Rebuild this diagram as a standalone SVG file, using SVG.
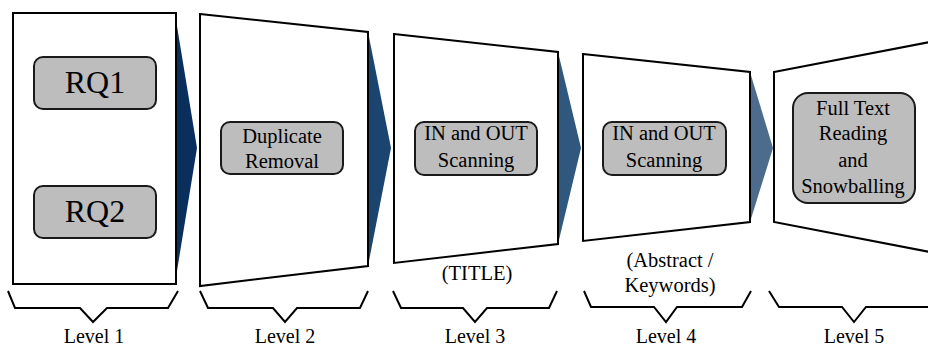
<svg xmlns="http://www.w3.org/2000/svg" width="928" height="347" viewBox="0 0 928 347">
  <style>
    .frame { fill: #ffffff; stroke: #000000; stroke-width: 2; stroke-linejoin: miter; }
    .box { fill: #bdbdbd; stroke: #1a1a1a; stroke-width: 2; }
    .brace { fill: none; stroke: #000000; stroke-width: 2; stroke-linejoin: miter; }
    .t { font-family: "Liberation Serif", "Times New Roman", serif; fill: #000000; text-anchor: middle; }
  </style>

  <!-- chevrons between stages -->
  <g id="connectors">
    <polygon points="176,20 197,148 176,277" fill="#0b2f5c"/>
    <polygon points="368,32 391,148 368,266" fill="#1b456f"/>
    <polygon points="558,52 581,148 558,244" fill="#30587f"/>
    <polygon points="750,72 773,148 750,222" fill="#4c6b8d"/>
  </g>

  <g id="level1">
    <rect class="frame" x="13" y="13" width="163" height="271"/>
    <g id="rq1">
      <rect class="box" x="34" y="57" width="122" height="52" rx="9"/>
      <text class="t" font-size="32" x="95" y="93">RQ1</text>
    </g>
    <g id="rq2">
      <rect class="box" x="34" y="186" width="122" height="52" rx="9"/>
      <text class="t" font-size="32" x="95" y="222">RQ2</text>
    </g>
    <path class="brace" d="M8,291 L15,308 L80,308 L93,322 L107,308 L168,308 L178,291"/>
    <text class="t" font-size="20" x="94" y="343">Level 1</text>
  </g>

  <g id="level2">
    <polygon class="frame" points="200,14 368,32 368,266 200,286"/>
    <rect class="box" x="221" y="122" width="122" height="52" rx="9"/>
    <text class="t" font-size="20.5" x="282" y="143">Duplicate</text>
    <text class="t" font-size="20.5" x="282" y="168">Removal</text>
    <path class="brace" d="M200,291 L208,308 L273,308 L285,322 L297,308 L360,308 L368,291"/>
    <text class="t" font-size="20" x="285" y="343">Level 2</text>
  </g>

  <g id="level3">
    <polygon class="frame" points="394,34 558,52 558,244 394,263"/>
    <rect class="box" x="415" y="122" width="122" height="53" rx="9"/>
    <text class="t" font-size="20.5" x="476" y="140">IN and OUT</text>
    <text class="t" font-size="20.5" x="476" y="167">Scanning</text>
    <text class="t" font-size="20.5" x="477" y="280">(TITLE)</text>
    <path class="brace" d="M393,291 L401,308 L463,308 L475,322 L487,308 L549,308 L557,291"/>
    <text class="t" font-size="20" x="475" y="343">Level 3</text>
  </g>

  <g id="level4">
    <polygon class="frame" points="583,54 750,72 750,222 583,241"/>
    <rect class="box" x="603" y="122" width="123" height="53" rx="9"/>
    <text class="t" font-size="20.5" x="664" y="140">IN and OUT</text>
    <text class="t" font-size="20.5" x="664" y="167">Scanning</text>
    <text class="t" font-size="20.5" x="670" y="267">(Abstract /</text>
    <text class="t" font-size="20.5" x="670" y="292">Keywords)</text>
    <path class="brace" d="M584,291 L591,307 L654,307 L666,322 L677,307 L742,307 L751,291"/>
    <text class="t" font-size="20" x="666" y="343">Level 4</text>
  </g>

  <g id="level5">
    <polygon class="frame" points="774,72 930,42 930,252 774,222"/>
    <rect class="box" x="793" y="93" width="122" height="110" rx="15"/>
    <text class="t" font-size="20.5" x="853" y="115">Full Text</text>
    <text class="t" font-size="20.5" x="853" y="140">Reading</text>
    <text class="t" font-size="20.5" x="853" y="167">and</text>
    <text class="t" font-size="20.5" x="853" y="193">Snowballing</text>
    <path class="brace" d="M769,291 L779,307 L842,307 L854,322 L866,307 L932,307"/>
    <text class="t" font-size="20" x="854" y="343">Level 5</text>
  </g>
</svg>
